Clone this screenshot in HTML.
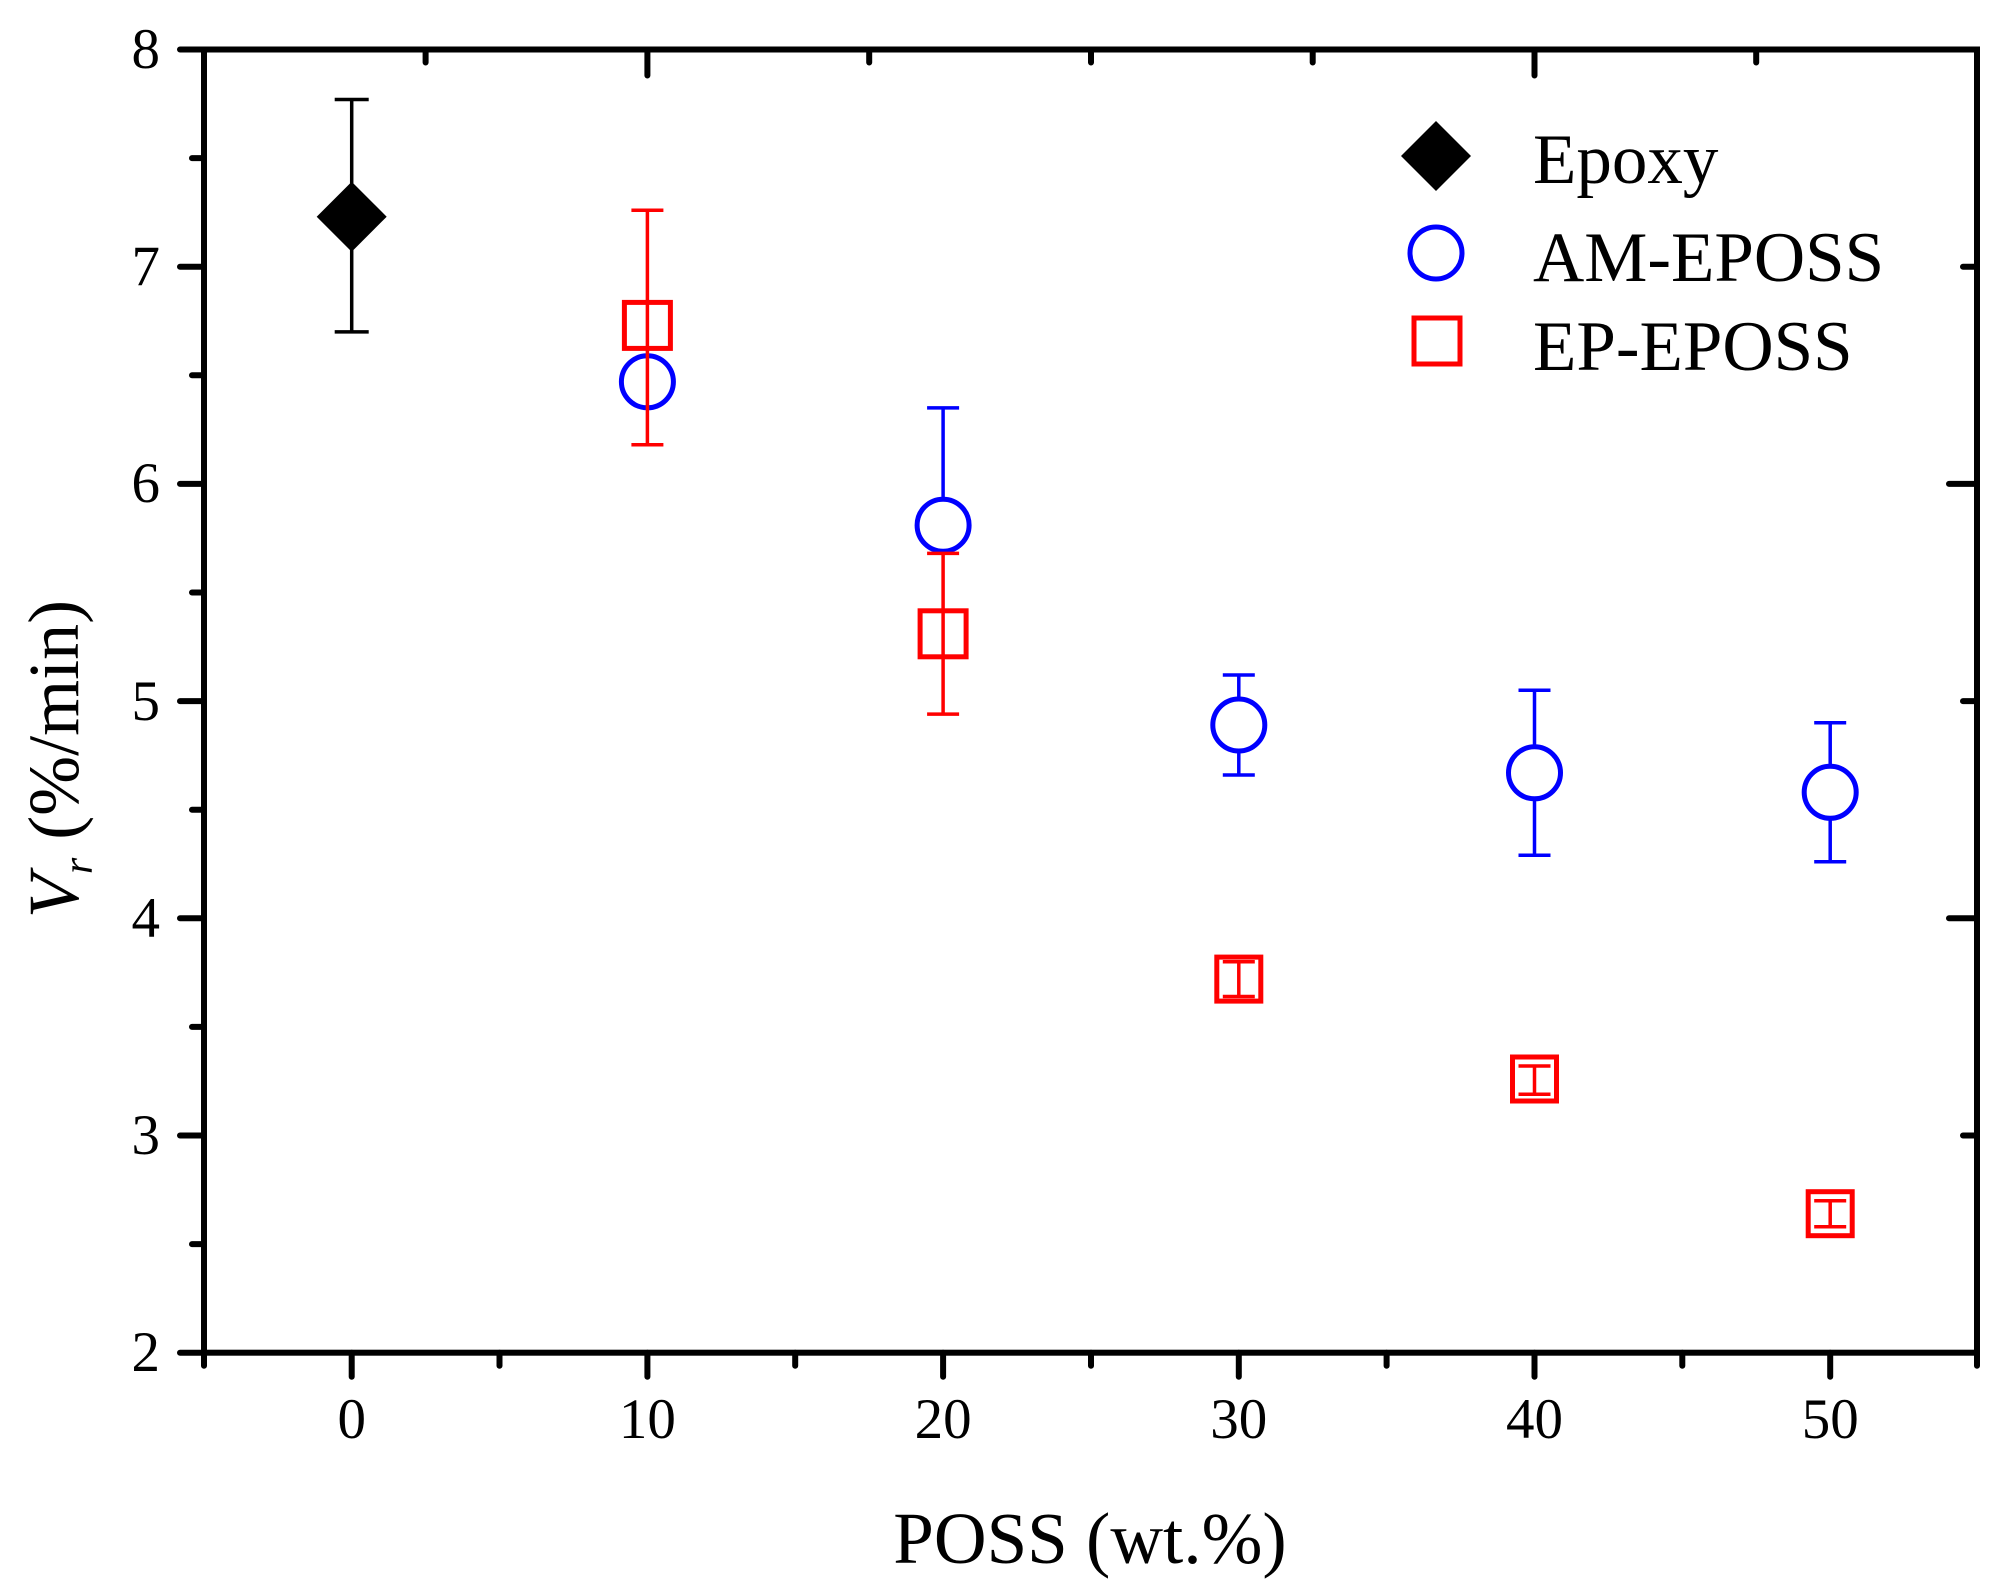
<!DOCTYPE html>
<html><head><meta charset="utf-8"><style>html,body{margin:0;padding:0;background:#fff}svg{display:block}</style></head>
<body>
<svg width="2004" height="1584" viewBox="0 0 2004 1584" xmlns="http://www.w3.org/2000/svg" font-family="'Liberation Serif', serif">
<g stroke="#000" stroke-width="6" fill="none" stroke-linecap="round">
<rect x="204" y="49.5" width="1773" height="1303.2" stroke-linecap="butt"/>
<path d="M204 49.5h-24M204 266.7h-24M204 483.9h-24M204 701.1h-24M204 918.3h-24M204 1135.5h-24M204 1352.7h-24"/>
<path d="M204 158.1h-12M204 375.3h-12M204 592.5h-12M204 809.7h-12M204 1026.9h-12M204 1244.1h-12"/>
<path d="M351.7 1352.7v24M647.4 1352.7v24M943.1 1352.7v24M1238.8 1352.7v24M1534.5 1352.7v24M1830.2 1352.7v24"/>
<path d="M204 1352.7v13M499.5 1352.7v13M795.2 1352.7v13M1091 1352.7v13M1386.6 1352.7v13M1682.3 1352.7v13M1977 1352.7v13"/>
<path d="M647.4 49.5v26M1534.5 49.5v26M425.6 49.5v13M869.2 49.5v13M1091 49.5v13M1312.7 49.5v13M1756.2 49.5v13"/>
<path d="M1977 266.7h-14M1977 701.1h-14M1977 1135.5h-14M1977 483.9h-28M1977 918.3h-28"/>
</g>
<g font-size="57" fill="#000" text-anchor="end">
<text x="160" y="68">8</text><text x="160" y="285">7</text><text x="160" y="502">6</text><text x="160" y="720">5</text><text x="160" y="937">4</text><text x="160" y="1154">3</text><text x="160" y="1371">2</text>
</g>
<g font-size="57" fill="#000" text-anchor="middle">
<text x="351.7" y="1438">0</text><text x="647.4" y="1438">10</text><text x="943.1" y="1438">20</text><text x="1238.8" y="1438">30</text><text x="1534.5" y="1438">40</text><text x="1830.2" y="1438">50</text>
</g>
<text x="1090" y="1563" font-size="73" text-anchor="middle">POSS (wt.%)</text>
<text transform="translate(78,759) rotate(-90)" font-size="72" text-anchor="middle"><tspan font-style="italic">V</tspan><tspan font-style="italic" font-size="42" dy="14">r</tspan><tspan dy="-14"> (%/min)</tspan></text>
<g stroke="#000" stroke-width="3.5"><path d="M351.7 99.5V331.9M334.7 99.5h34M334.7 331.9h34"/></g>
<path d="M351.7 181.7L386.7 216.7L351.7 251.7L316.7 216.7Z" fill="#000"/>
<g stroke="#00f" stroke-width="3.5" fill="none">
<path d="M647.4 360.1V403.6"/>
<path d="M943.1 407.9V525.2M927.1 407.9h32"/>
<path d="M1238.8 675V775M1222.8 675h32M1222.8 775h32"/>
<path d="M1534.5 690.2V855.3M1518.5 690.2h32M1518.5 855.3h32"/>
<path d="M1830.2 722.8V861.8M1814.2 722.8h32M1814.2 861.8h32"/>
</g>
<g stroke="#00f" stroke-width="5" fill="#fff">
<circle cx="647.4" cy="381.8" r="26"/><circle cx="943.1" cy="525.2" r="26"/><circle cx="1238.8" cy="725" r="26"/><circle cx="1534.5" cy="772.8" r="26"/><circle cx="1830.2" cy="792.3" r="26"/>
</g>
<g stroke="#f00" stroke-width="5" fill="none">
<rect x="624.4" y="302.4" width="46" height="46"/><rect x="920.1" y="610.8" width="46" height="46"/><rect x="1216.8" y="957.1" width="44" height="44"/><rect x="1512.5" y="1057" width="44" height="44"/><rect x="1808.2" y="1191.7" width="44" height="44"/>
</g>
<g stroke="#f00" stroke-width="3.5" fill="none">
<path d="M647.4 210.2V444.8M631.4 210.2h32M631.4 444.8h32"/>
<path d="M943.1 553.4V714.1M927.1 553.4h32M927.1 714.1h32"/>
<path d="M1238.8 961.7V996.5M1222.8 961.7h32M1222.8 996.5h32"/>
<path d="M1534.5 1066V1094.2M1518.5 1066h32M1518.5 1094.2h32"/>
<path d="M1830.2 1200.7V1226.7M1814.2 1200.7h32M1814.2 1226.7h32"/>
</g>
<path d="M1436 121L1471 156L1436 191L1401 156Z" fill="#000"/>
<circle cx="1436" cy="253" r="26" stroke="#00f" stroke-width="5" fill="none"/>
<rect x="1414" y="318" width="46" height="46" stroke="#f00" stroke-width="5" fill="none"/>
<g font-size="71" fill="#000">
<text x="1533" y="183">Epoxy</text><text x="1533" y="281">AM-EPOSS</text><text x="1533" y="370">EP-EPOSS</text>
</g>
</svg>
</body></html>
